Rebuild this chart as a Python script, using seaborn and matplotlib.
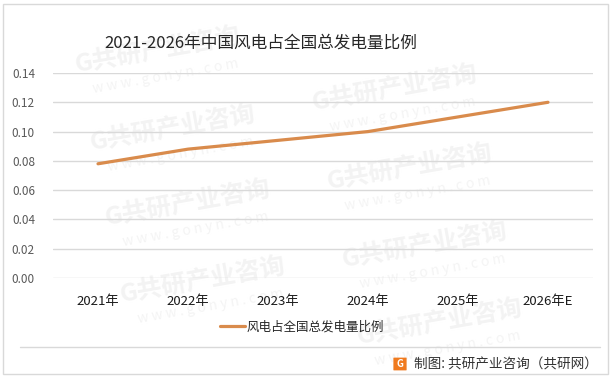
import matplotlib
matplotlib.use("Agg")
import matplotlib.pyplot as plt
import seaborn as sns
import pandas as pd
from matplotlib.patches import Rectangle, FancyBboxPatch
from matplotlib.lines import Line2D

years = ["2021年", "2022年", "2023年", "2024年", "2025年", "2026年E"]
share = [0.078, 0.088, 0.094, 0.100, 0.110, 0.120]
series_name = "风电占全国总发电量比例"
title = "2021-2026年中国风电占全国总发电量比例"
y_ticks = [0.00, 0.02, 0.04, 0.06, 0.08, 0.10, 0.12, 0.14]
source = "制图: 共研产业咨询（共研网）"

sns.set_theme(style="white")
plt.rcParams["font.family"] = ["Noto Sans CJK SC", "DejaVu Sans"]

W, H = 614, 383
fig = plt.figure(figsize=(W / 100, H / 100), dpi=100)

def fx(px):
    return px / W

def fy(py):
    return 1 - py / H

# watermarks (kept inside the canvas)
wm_pos = [(158, 50), (173, 128), (188, 203), (203, 280),
          (395, 88), (410, 167), (425, 245), (440, 322)]
for (x, y) in wm_pos:
    fig.text(fx(x), fy(y), "G共研产业咨询", fontsize=18, fontweight="bold",
             color="#F3F3F3", rotation=10, ha="center", va="center",
             zorder=-5, rotation_mode="anchor")
    fig.text(fx(x + 8), fy(y + 26), "w w w . g o n y n . c o m", fontsize=10,
             color="#F4F4F4", rotation=10, ha="center", va="center",
             zorder=-5, rotation_mode="anchor")

ax = fig.add_axes([fx(53), fy(278), fx(593) - fx(53), fy(73) - fy(278)])
ax.patch.set_alpha(0)

df = pd.DataFrame({"year": years, "share": share, "series": series_name})
sns.lineplot(data=df, x="year", y="share", ax=ax, color="#D98B4C",
             linewidth=2.3, sort=False, label=series_name, legend=False)

ax.set_xlim(-0.5, len(years) - 0.5)
ax.set_ylim(0, 0.14)
ax.set_yticks(y_ticks)
ax.set_yticklabels([f"{v:.2f}" for v in y_ticks], fontsize=8.5, color="#595959")
ax.set_xticks(range(len(years)))
ax.set_xticklabels(years, fontsize=9.5, color="#1a1a1a")
ax.tick_params(axis="y", length=0, pad=13)
ax.tick_params(axis="x", length=0, pad=12)
ax.grid(axis="y", color="#D9D9D9", linewidth=1)
ax.grid(axis="x", visible=False)
for s in ax.spines.values():
    s.set_visible(False)
ax.set_xlabel("")
ax.set_ylabel("")

# title
fig.text(fx(261), fy(43), title, fontsize=12, color="#262626",
         ha="center", va="center")

# legend
handle = Line2D([], [], color="#D98B4C", linewidth=2.3)
fig.legend([handle], [series_name], loc="center",
           bbox_to_anchor=(fx(302), fy(327)), frameon=False, fontsize=9,
           handlelength=2.0, handletextpad=0.2)

# border and separator
fig.add_artist(Rectangle((fx(3), fy(374)), fx(608) - fx(3), fy(4) - fy(374),
                         transform=fig.transFigure, fill=False,
                         edgecolor="#D9D9D9", linewidth=1))
fig.add_artist(Line2D([fx(20), fx(600)], [fy(347), fy(347)],
                      transform=fig.transFigure, color="#D9D9D9", linewidth=1))

# source logo and text
fig.add_artist(FancyBboxPatch((fx(394), fy(370)), fx(12), fy(358) - fy(370),
                              boxstyle="round,pad=0.001",
                              transform=fig.transFigure, facecolor="#F07A1E",
                              edgecolor="none"))
fig.text(fx(400), fy(364), "G", fontsize=7, fontweight="bold", color="white",
         ha="center", va="center")
fig.text(fx(414), fy(364), source, fontsize=9.8, color="#333333",
         ha="left", va="center")

fig.savefig("out.png", dpi=100)
